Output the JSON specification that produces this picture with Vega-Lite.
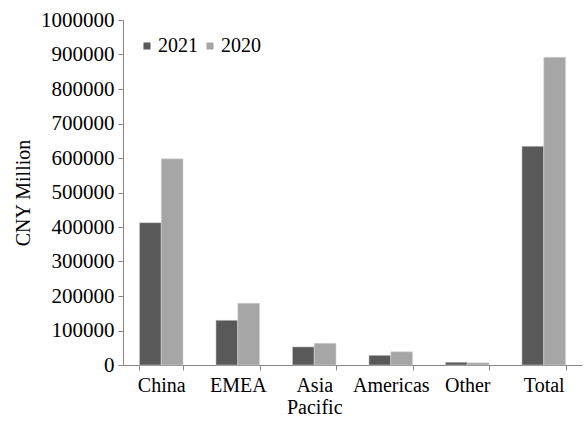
{
  "$schema": "https://vega.github.io/schema/vega-lite/v6.json",
  "autosize": "none",
  "width": 459,
  "height": 345,
  "padding": {"left": 123, "top": 20, "right": 5, "bottom": 56},
  "background": "white",
  "config": {
    "view": {"stroke": null},
    "font": "Liberation Serif",
    "axis": {"labelFont": "Liberation Serif", "titleFont": "Liberation Serif", "labelColor": "black", "titleColor": "black", "domainColor": "#868686", "tickColor": "#868686", "grid": false},
    "legend": {"labelFont": "Liberation Serif", "titleFont": "Liberation Serif"}
  },
  "data": {
    "values": [
      {"region": "China", "year": "2021", "value": 412500},
      {"region": "China", "year": "2020", "value": 597500},
      {"region": "EMEA", "year": "2021", "value": 129500},
      {"region": "EMEA", "year": "2020", "value": 179000},
      {"region": "Asia Pacific", "year": "2021", "value": 52500},
      {"region": "Asia Pacific", "year": "2020", "value": 63000},
      {"region": "Americas", "year": "2021", "value": 28000},
      {"region": "Americas", "year": "2020", "value": 38500},
      {"region": "Other", "year": "2021", "value": 8000},
      {"region": "Other", "year": "2020", "value": 6500},
      {"region": "Total", "year": "2021", "value": 634000},
      {"region": "Total", "year": "2020", "value": 892000}
    ]
  },
  "mark": {"type": "bar", "stroke": "#d9d9d9", "strokeWidth": 0.5},
  "encoding": {
    "x": {
      "field": "region", "type": "nominal",
      "sort": ["China", "EMEA", "Asia Pacific", "Americas", "Other", "Total"],
      "scale": {"paddingInner": 0.43, "paddingOuter": 0.215},
      "axis": {
        "title": null, "labelAngle": 0, "labelFontSize": 20, "labelPadding": 5,
        "labelFont": "Liberation Serif",
        "tickBand": "extent", "tickSize": 5, "labelOverlap": false,
        "labelExpr": "datum.label == 'Asia Pacific' ? ['Asia', 'Pacific'] : datum.label",
        "labelLineHeight": 22
      }
    },
    "xOffset": {"field": "year", "type": "nominal", "sort": ["2021", "2020"]},
    "y": {
      "field": "value", "type": "quantitative",
      "scale": {"domain": [0, 1000000], "nice": false},
      "axis": {
        "title": "CNY Million", "titleFontSize": 20, "titleFontWeight": "normal",
        "titleFont": "Liberation Serif", "labelFont": "Liberation Serif",
        "labelFontSize": 21, "labelOverlap": false,
        "values": [0,100000,200000,300000,400000,500000,600000,700000,800000,900000,1000000],
        "format": "d", "tickSize": 5, "labelPadding": 4, "titlePadding": 7
      }
    },
    "color": {
      "field": "year", "type": "nominal", "sort": ["2021", "2020"],
      "scale": {"domain": ["2021", "2020"], "range": ["#595959", "#a6a6a6"]},
      "legend": {
        "title": null, "orient": "none", "legendX": 14, "legendY": 16,
        "direction": "horizontal", "symbolType": "square", "symbolSize": 49,
        "symbolStrokeWidth": 0, "labelFontSize": 20, "labelFont": "Liberation Serif",
        "labelColor": "black", "columnPadding": 2, "labelOffset": 1
      }
    }
  }
}
